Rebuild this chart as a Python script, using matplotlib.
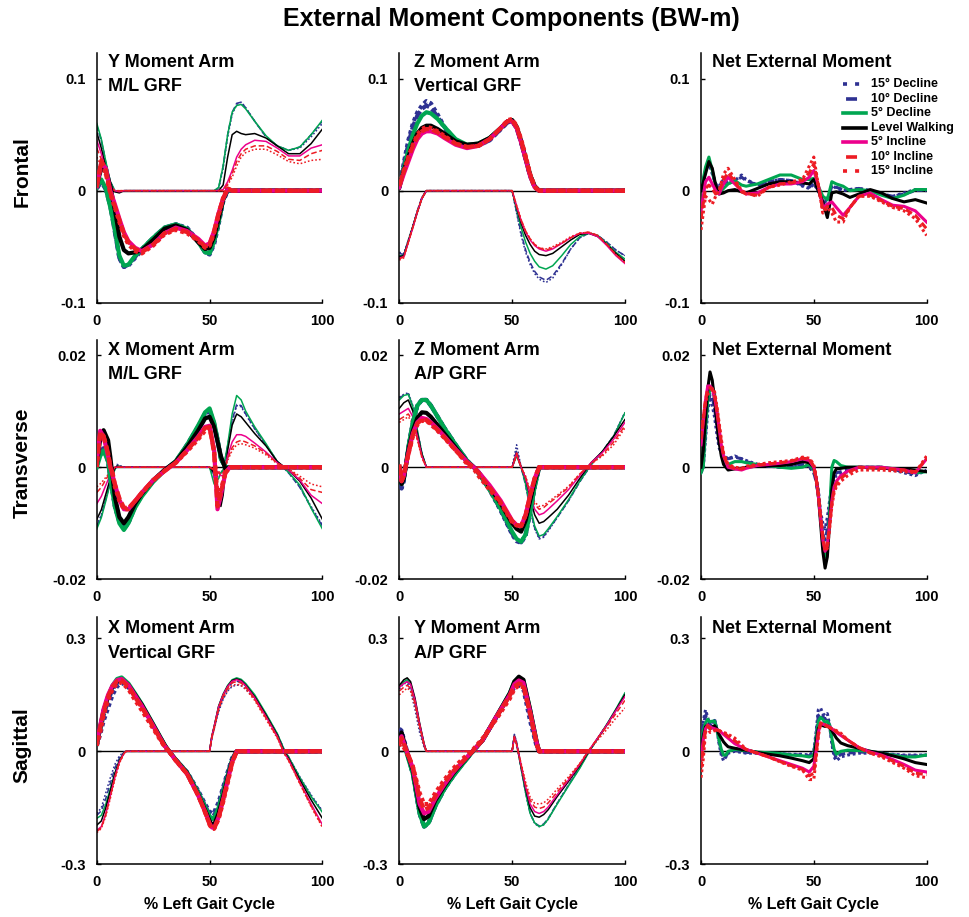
import numpy as np
import matplotlib
matplotlib.use('Agg')
import matplotlib.pyplot as plt
from matplotlib.lines import Line2D

plt.rcParams['font.family'] = ['Liberation Sans', 'DejaVu Sans']
plt.rcParams['font.weight'] = 'bold'
plt.rcParams['lines.scale_dashes'] = False

W, H = 969, 917

conditions = ['15° Decline', '10° Decline', '5° Decline', 'Level Walking',
              '5° Incline', '10° Incline', '15° Incline']
colors = ['#2E3192', '#2E3192', '#00A651', '#000000', '#EC008C', '#ED1C24', '#ED1C24']
kinds = ['dot', 'dash', 'solid', 'solid', 'solid', 'dash', 'dot']

# all moments below are in 1e-3 BW-m, rows in the order of `conditions`
# left leg = thick lines, right leg = thin lines

# Frontal: Y moment arm x M/L GRF
fy_x_left = [0, 2, 4, 6, 8, 10, 12, 14, 17, 20, 25, 30, 35, 40, 45, 48, 50, 52, 54, 56, 58, 60, 100]
fy_left = [
    [2, 8, 2, -12, -35, -60, -68, -67, -60, -53, -43, -34, -30, -33, -45, -55, -57, -48, -30, -10, 0, 0, 0],
    [2, 8, 1, -14, -37, -60, -68, -66, -59, -52, -42, -33, -30, -34, -46, -55, -56, -46, -28, -8, 0, 0, 0],
    [3, 10, 2, -15, -35, -58, -67, -66, -58, -52, -42, -33, -30, -34, -46, -55, -56, -45, -28, -8, 0, 0, 0],
    [5, 20, 18, 4, -17, -41, -53, -56, -55, -53, -44, -34, -31, -35, -46, -52, -51, -41, -25, -8, 1, 0, 0],
    [4, 25, 20, 0, -12, -25, -37, -45, -51, -54, -48, -38, -33, -36, -43, -49, -47, -36, -20, -7, 1, 0, 0],
    [4, 27, 18, -2, -14, -26, -38, -46, -52, -55, -48, -38, -34, -37, -44, -50, -48, -36, -20, -7, 2, 0, 0],
    [3, 26, 15, -3, -15, -28, -40, -48, -54, -56, -49, -39, -35, -38, -45, -51, -49, -38, -22, -6, 2, 0, 0],
]
fy_x_right = [0, 2, 4, 6, 8, 10, 12, 50, 52, 54, 56, 58, 60, 62, 64, 66, 70, 75, 80, 85, 90, 95, 100]
fy_right = [
    [58, 45, 25, 8, 0, -1, 0, 0, 0, 2, 20, 48, 68, 77, 79, 74, 62, 48, 40, 36, 38, 48, 60],
    [58, 45, 25, 8, 0, -1, 0, 0, 0, 2, 22, 50, 70, 78, 79, 74, 62, 48, 40, 36, 39, 50, 62],
    [60, 46, 26, 8, 0, -1, 0, 0, 0, 3, 22, 50, 70, 76, 77, 73, 62, 49, 40, 36, 39, 50, 63],
    [52, 38, 20, 5, -1, -2, 0, 0, 0, 0, 5, 30, 50, 53, 51, 50, 51, 47, 40, 33, 33, 42, 55],
    [45, 33, 17, 4, 0, -1, 0, 0, 0, 0, 1, 8, 18, 30, 37, 41, 45, 44, 38, 31, 31, 38, 41],
    [38, 28, 14, 3, 0, 0, 0, 0, 0, 0, 0, 6, 15, 26, 33, 37, 40, 40, 35, 28, 27, 33, 36],
    [30, 22, 11, 2, 0, 0, 0, 0, 0, 0, 0, 5, 12, 22, 30, 34, 37, 37, 32, 26, 24, 27, 28],
]

# Frontal: Z moment arm x vertical GRF
fz_x_left = [0, 2, 4, 6, 8, 10, 12, 14, 17, 20, 25, 30, 35, 40, 45, 48, 50, 52, 54, 56, 58, 60, 62, 100]
fz_left = [
    [3, 25, 45, 60, 70, 76, 80, 78, 68, 57, 45, 40, 40, 45, 55, 61, 62, 56, 43, 28, 13, 3, 0, 0],
    [3, 22, 42, 57, 67, 73, 76, 74, 66, 56, 45, 40, 40, 45, 55, 61, 62, 56, 43, 28, 13, 3, 0, 0],
    [3, 20, 36, 50, 60, 67, 70, 69, 64, 57, 46, 41, 42, 47, 56, 62, 63, 57, 44, 29, 14, 4, 0, 0],
    [3, 18, 30, 42, 51, 56, 58, 58, 55, 51, 44, 41, 42, 47, 56, 62, 63, 57, 44, 29, 14, 4, 0, 0],
    [3, 15, 26, 37, 46, 51, 53, 53, 51, 47, 41, 38, 40, 46, 56, 62, 62, 56, 43, 28, 13, 3, 0, 0],
    [4, 17, 29, 40, 48, 53, 55, 55, 52, 48, 42, 39, 40, 46, 56, 62, 63, 57, 45, 30, 14, 3, 0, 0],
    [5, 18, 30, 41, 50, 55, 57, 56, 53, 49, 42, 39, 40, 46, 56, 63, 64, 58, 46, 31, 15, 4, 0, 0],
]
fz_x_right = [0, 2, 4, 6, 8, 10, 12, 50, 52, 54, 56, 58, 60, 62, 65, 68, 72, 76, 80, 84, 88, 92, 96, 100]
fz_right = [
    [-55, -56, -44, -31, -18, -6, 0, 0, -20, -40, -55, -66, -74, -79, -82, -78, -66, -52, -42, -38, -40, -46, -53, -58],
    [-56, -57, -45, -32, -18, -6, 0, 0, -19, -38, -53, -64, -72, -77, -80, -76, -65, -52, -42, -38, -40, -46, -53, -58],
    [-58, -58, -45, -32, -19, -7, 0, 0, -17, -33, -46, -56, -63, -68, -70, -67, -58, -48, -41, -38, -40, -47, -55, -61],
    [-59, -58, -45, -32, -19, -7, 0, 0, -15, -29, -40, -48, -54, -57, -58, -56, -50, -44, -39, -38, -41, -48, -56, -63],
    [-60, -59, -46, -33, -19, -7, 0, 0, -14, -27, -37, -44, -49, -52, -54, -52, -47, -42, -38, -38, -41, -49, -58, -65],
    [-61, -59, -46, -33, -19, -7, 0, 0, -14, -26, -36, -43, -48, -51, -53, -51, -47, -42, -38, -37, -40, -48, -57, -64],
    [-62, -60, -46, -33, -19, -7, 0, 0, -13, -26, -36, -43, -48, -51, -52, -50, -46, -41, -38, -37, -40, -48, -57, -64],
]

# Frontal: net external moment
fn_x = [0, 2, 3.5, 5, 6.5, 8, 10, 12, 15, 18, 20, 25, 30, 35, 40, 45, 48, 50, 52, 54, 56, 58, 60, 63, 66, 70, 75, 80, 85, 90, 95, 100]
fn = [
    [0, 18, 25, 15, 6, 4, 10, 7, 9, 14, 10, 5, 8, 10, 9, 4, 2, 6, 0, -12, -8, 5, 2, 0, 1, 2, 0, -3, -5, -2, 1, 0],
    [0, 17, 26, 16, 6, 2, 7, 6, 9, 12, 9, 5, 8, 10, 9, 5, 3, 7, 0, -10, -8, 4, 3, 1, 1, 2, 0, -3, -5, -3, 0, 1],
    [0, 21, 30, 18, 4, -2, 2, 6, 9, 5, 4, 6, 10, 14, 14, 10, 10, 11, 4, -5, -8, 8, 6, 4, 0, 1, 0, -4, -7, -4, 1, 1],
    [0, 15, 26, 20, 5, -3, -2, 0, 1, -1, -2, 2, 6, 8, 8, 7, 6, 10, 0, -10, -24, -2, -1, -3, -6, -3, 1, -2, -7, -10, -8, -11],
    [-18, 8, 12, 6, 0, -3, 6, 12, 6, 0, -3, -2, 3, 6, 6, 8, 12, 18, 5, -15, -12, -10, -15, -22, -15, -5, -2, -8, -13, -14, -18, -28],
    [-25, 2, 5, 2, -3, 0, 10, 16, 8, -1, -3, -4, 3, 6, 7, 9, 16, 24, 5, -18, -14, -15, -22, -25, -15, -5, -4, -9, -14, -16, -22, -34],
    [-35, -5, -8, -12, -5, 0, 15, 20, 10, 0, -2, -5, 3, 5, 8, 10, 22, 30, 5, -20, -15, -20, -28, -28, -15, -5, -5, -10, -15, -18, -25, -40],
]

# Transverse: X moment arm x M/L GRF
tx_x_left = [0, 1.5, 3, 5, 6, 7, 8, 10, 12, 14, 17, 20, 25, 30, 35, 40, 45, 48, 50, 52, 53.5, 55, 57, 59, 100]
tx_left = [
    [0.3, 2.5, 3.2, 1, -2, -4.5, -7, -9.8, -11, -10, -7, -5, -2.5, -0.5, 1, 4, 7.2, 9.5, 10, 7.6, 4.8, 1.5, 0, 0, 0],
    [0.3, 2.8, 3.4, 1.2, -1.8, -4.2, -6.8, -9.6, -10.8, -9.8, -7, -5, -2.5, -0.5, 1, 4, 7.3, 9.6, 10.2, 7.8, 5, 1.5, 0, 0, 0],
    [0, 2, 3, 1, -2, -4.5, -7, -10, -11.2, -10, -7.2, -5.2, -2.6, -0.6, 1.1, 4, 7.5, 9.8, 10.5, 8, 5, 1.5, 0, 0, 0],
    [0.5, 5, 6.6, 4.8, 1.8, -1.7, -5.3, -8.9, -10, -8.9, -6.5, -4.7, -2.3, -0.5, 1, 3.6, 6.6, 8.7, 9, 7.2, 4.6, 2, -0.3, 0, 0],
    [1, 6.5, 5.5, 2, 0, -1.5, -3, -5.8, -7.5, -7.5, -6, -4.5, -2.3, -0.7, 0.8, 3, 5.5, 7.2, 7.4, 3, -7.5, -5, -1, 0, 0],
    [0.5, 6.2, 5.6, 2.5, 0, -1, -3, -5.5, -7.2, -7.3, -6, -4.5, -2.3, -0.7, 0.8, 3, 5.3, 7, 7.2, 2.5, -7, -4.5, -1, 0, 0],
    [0, 6, 5.5, 2.5, 0, -1.2, -3.5, -6, -7.5, -7.5, -6, -4.6, -2.4, -0.6, 0.8, 2.8, 5, 6.5, 7, 3, -5, -4, -1, 0, 0],
]
tx_x_right = [0, 2, 4, 6, 8, 9, 12, 50, 52, 54, 55, 56, 58, 60, 62, 64, 66, 70, 75, 80, 85, 90, 95, 100]
tx_right = [
    [-10.3, -8.5, -5.5, -2.5, -0.3, 0.5, 0, 0, -1.5, -1.5, -1, -0.5, 3.5, 8, 11, 10.8, 9.4, 6.8, 4, 1, -1, -3.5, -7, -10.3],
    [-10.5, -8.7, -5.7, -2.6, -0.3, 0.3, 0, 0, -1.8, -1.6, -1, -0.5, 3.8, 8.4, 11.2, 11, 9.5, 6.9, 4, 1, -1, -3.6, -7.2, -10.5],
    [-11, -9, -6, -2.8, -0.4, 0.2, 0, 0, -3, -2, -1, -0.5, 4, 9.5, 12.8, 12, 10, 7.2, 4.2, 1, -0.9, -3.2, -7.3, -11],
    [-9.3, -7.6, -4.8, -2, -0.2, 0.2, 0, 0, -1, -5, -7, -5, 3, 7.5, 9.5, 9, 8, 6, 3.8, 1, -0.5, -2.5, -5.5, -9.3],
    [-6.5, -5.2, -3.2, -1.3, 0, 0, 0, 0, -0.5, -1, -1.5, -1.5, 2, 4.5, 5.8, 5.8, 5.5, 4.3, 2.7, 0.8, -0.5, -2.3, -5, -6.5],
    [-4.5, -3.6, -2.2, -0.9, 0, 0, 0, 0, -0.5, -1, -1.2, -1.2, 1.5, 3.5, 4.5, 4.8, 4.5, 3.8, 2.5, 0.7, -0.3, -2, -4, -4.5],
    [-3.5, -2.8, -1.8, -0.8, 0, 0, 0, 0, -0.4, -0.8, -1, -1, 1.2, 3, 4, 4.2, 4, 3.4, 2.2, 0.6, -0.3, -1.6, -3, -3.5],
]

# Transverse: Z moment arm x A/P GRF
tz_x_left = [0, 1, 2, 3, 4, 6, 8, 10, 12, 14, 17, 20, 25, 30, 33, 35, 40, 45, 50, 52, 54, 56, 58, 60, 62, 100]
tz_left = [
    [0, -3.8, -2.5, 0.5, 3.5, 8, 11, 12, 12, 11, 9, 7, 4, 1.2, 0, -1, -4, -7.8, -12, -13.2, -13.5, -12.2, -8, -3.5, 0, 0],
    [0, -3.5, -2.2, 0.5, 3.5, 8, 11, 12, 12, 11, 9, 7, 4, 1.2, 0, -1, -4, -7.6, -11.8, -13, -13.4, -12, -8, -3.5, 0, 0],
    [0, -3, -2, 0.5, 3.5, 8, 11, 12, 12, 11, 9, 7, 4, 1.2, 0, -1, -4, -7.5, -11.5, -12.8, -13.3, -12, -8, -3.5, 0, 0],
    [0, -3, -2, 0.5, 3, 6.5, 8.8, 9.8, 9.7, 9, 7.5, 6, 3.5, 1, 0, -0.8, -3.5, -6.5, -10, -11, -11.5, -9.5, -6, -2.5, 0, 0],
    [0, -2.5, -1.5, 0.5, 2.5, 6, 8, 8.8, 8.6, 8, 6.8, 5.5, 3.2, 1, 0, -0.8, -3.2, -6, -9.5, -10.3, -10.5, -8.5, -5, -2, 0, 0],
    [0, -2.5, -1.5, 0.5, 2.3, 5.7, 7.8, 8.5, 8.4, 7.8, 6.6, 5.3, 3, 0.8, 0, -1, -3.6, -6.3, -9.6, -10.3, -10.5, -8.5, -5, -2, 0, 0],
    [0.5, -2, -1, 0.5, 2.2, 5.5, 7.6, 8.3, 8.3, 7.6, 6.5, 5.2, 3, 0.6, -0.3, -1.5, -4, -6.5, -9.8, -10.4, -10.5, -8.5, -5, -2, 0, 0],
]
tz_x_right = [0, 2, 4, 6, 8, 10, 12, 50, 51, 52, 53, 54, 56, 58, 60, 62, 64, 66, 70, 75, 80, 85, 90, 95, 100]
tz_right = [
    [12.5, 13, 13.3, 11, 6.6, 2.5, 0, 0, 2, 4, 2, 0, -3.2, -7.5, -11, -12.8, -12.5, -11.4, -9, -6, -2.6, 0.4, 2.8, 5.6, 9.8],
    [12.3, 12.9, 13.1, 10.8, 6.5, 2.5, 0, 0, 1.5, 3, 1.5, 0, -3.2, -7.4, -10.8, -12.6, -12.3, -11.2, -9, -6, -2.6, 0.4, 2.8, 5.6, 9.7],
    [12, 12.8, 13, 10.8, 6.5, 2.5, 0, 0, 1, 2, 1, 0, -3, -7, -10.5, -12.3, -12, -11, -8.8, -5.8, -2.5, 0.5, 2.8, 5.5, 9.7],
    [10.5, 11.5, 12, 10, 6, 2.3, 0, 0, 1.2, 2.5, 1.2, 0, -2, -5.5, -8.5, -10, -9.7, -9, -7.5, -5, -2, 0.8, 2.8, 5.5, 8.5],
    [9.5, 10, 10.5, 9, 5.5, 2, 0, 0, 1.2, 2.5, 1.2, 0, -2, -5, -7.5, -8.5, -8.2, -7.5, -6, -4, -1.5, 0.8, 2.6, 5, 8],
    [8.5, 9, 9.5, 8.2, 5, 1.8, 0, 0, 1.2, 2.5, 1.2, 0, -1.8, -4.5, -6.6, -7.5, -7.2, -6.5, -5.3, -3.6, -1.2, 0.6, 2.2, 4.5, 7.4],
    [8, 8.5, 9, 7.8, 4.8, 1.7, 0, 0, 1, 2, 1, 0, -1.6, -4.2, -6.2, -7, -6.8, -6.2, -5, -3.4, -1.2, 0.6, 2, 4, 7],
]

# Transverse: net external moment
tn_x = [0, 1, 2, 3, 4, 5, 6, 7, 8, 9, 10, 12, 15, 18, 20, 25, 30, 35, 40, 45, 48, 50, 51, 52, 53, 54, 55, 56, 57, 58, 59, 60, 62, 65, 70, 80, 90, 95, 100]
tn = [
    [-1, 0, 5, 10, 12.5, 11, 9, 6, 3.5, 2.5, 2, 1.5, 2, 1.5, 1.2, 0.5, 0.2, 0, 0.2, 0.5, 0, -1, -2, -4, -8, -10, -11, -9, -6, -3, -2, -1.5, -1.2, -0.8, 0, 0, -1, -1.5, -0.5],
    [-1, 0.5, 6, 11, 13, 12.5, 10.5, 7.5, 4.5, 3, 2.2, 1.5, 1.8, 1.5, 1, 0.5, 0.2, 0, 0.2, 0.5, 0.2, -1, -2.5, -5, -9, -12, -13, -11, -7, -3, -1.5, -1, -0.8, -0.5, 0, 0, -0.8, -1.2, -0.5],
    [-1, 0, 7, 12, 14, 14.5, 13, 10, 6, 3, 1, 0.5, 1, 1, 0.8, 0.5, 0.3, 0, -0.2, 0, 0.5, -0.5, -2, -5, -9, -13, -16, -15, -8, 0, 1.2, 1, 0.3, 0, 0, 0, -0.5, -1, -0.8],
    [0, 3, 9, 14, 17, 15.5, 12, 8, 4.5, 2, 0.5, -0.5, -0.3, -0.2, 0, 0.2, 0.3, 0.3, 0.5, 1, 0.8, 0, -2, -5, -10, -15, -18, -16, -10, -4, -1, -0.3, -0.2, 0, 0, -0.2, -0.3, -0.5, -0.8],
    [4, 8, 12, 14.5, 14.5, 14, 12.5, 10, 7, 4, 2, 0, -0.3, -0.5, -0.2, 0.3, 0.5, 0.7, 1, 1.5, 1.2, 0, -2, -5, -9, -13, -15, -14, -10, -6, -3.5, -2.5, -1.5, -0.7, 0, 0, -0.5, -1, 1.5],
    [5, 8.5, 12, 14, 14.2, 14, 13, 10.5, 7.5, 4.5, 2.2, 0.3, -0.2, -0.3, 0, 0.4, 0.6, 0.8, 1.1, 1.6, 1.5, 0.2, -2, -5, -9, -12.5, -14.8, -14, -10.5, -6.5, -4, -3, -2, -1, 0, -0.2, -0.5, -0.8, 1.5],
    [6, 9, 11.5, 13, 13.5, 14, 13.5, 11, 8, 5, 2.5, 0.5, 0, -0.2, 0.2, 0.5, 0.8, 1, 1.2, 1.8, 1.6, 0.5, -1.5, -4.5, -8.5, -12, -15, -14.5, -11, -7, -4.5, -3.5, -2.5, -1.5, -0.5, -0.5, -0.8, -1, 2],
]

# Sagittal: X moment arm x vertical GRF
sx_x_left = [0, 1.5, 3, 5, 7, 9, 11, 14, 17, 20, 25, 30, 32, 35, 40, 45, 48, 50, 51, 52, 54, 56, 58, 60, 62, 100]
sx_left = [
    [15, 45, 80, 115, 150, 172, 182, 170, 145, 118, 68, 16, 0, -22, -55, -105, -140, -160, -165, -162, -135, -95, -55, -18, 0, 0],
    [18, 55, 95, 135, 165, 182, 188, 175, 150, 122, 70, 17, 0, -22, -56, -108, -145, -168, -173, -170, -145, -102, -60, -20, 0, 0],
    [20, 60, 105, 145, 175, 192, 196, 180, 153, 125, 72, 18, 0, -22, -56, -110, -148, -172, -180, -178, -150, -108, -65, -22, 0, 0],
    [21, 65, 108, 145, 172, 187, 191, 176, 150, 123, 70, 17, 0, -23, -58, -116, -156, -185, -195, -195, -165, -120, -72, -25, 0, 0],
    [22, 68, 112, 150, 175, 189, 192, 176, 148, 120, 68, 15, 0, -24, -60, -118, -160, -192, -202, -204, -175, -128, -78, -28, 0, 0],
    [20, 62, 105, 145, 172, 186, 188, 172, 143, 116, 65, 14, 0, -24, -60, -118, -162, -194, -204, -205, -177, -130, -80, -30, 0, 0],
    [15, 50, 95, 135, 165, 180, 183, 165, 135, 108, 60, 12, 0, -25, -60, -118, -162, -195, -205, -206, -180, -135, -85, -32, 0, 0],
]
sx_x_right = [0, 2, 4, 6, 8, 10, 12, 13, 50, 51, 52, 54, 56, 58, 60, 62, 64, 66, 70, 75, 80, 83, 85, 90, 95, 100]
sx_right = [
    [-165, -150, -110, -70, -35, -12, -2, 0, 0, 35, 58, 105, 138, 160, 172, 176, 174, 165, 140, 95, 45, 5, -15, -68, -116, -158],
    [-170, -158, -125, -85, -45, -18, -3, 0, 0, 38, 62, 112, 145, 168, 182, 186, 183, 173, 145, 98, 46, 5, -15, -70, -118, -160],
    [-178, -170, -140, -100, -58, -24, -5, 0, 0, 40, 65, 120, 152, 175, 190, 195, 191, 180, 150, 100, 47, 5, -15, -70, -120, -162],
    [-196, -185, -150, -105, -60, -25, -5, 0, 0, 40, 65, 119, 150, 173, 188, 192, 188, 176, 145, 96, 43, 0, -19, -76, -129, -178],
    [-210, -200, -165, -118, -68, -28, -6, 0, 0, 40, 65, 118, 150, 172, 186, 190, 186, 174, 142, 92, 40, -3, -22, -82, -140, -195],
    [-213, -203, -168, -120, -70, -30, -6, 0, 0, 38, 62, 115, 147, 168, 182, 185, 181, 170, 138, 88, 37, -5, -24, -85, -145, -200],
    [-216, -205, -172, -125, -75, -32, -7, 0, 0, 35, 58, 110, 140, 162, 175, 178, 175, 165, 135, 85, 35, -5, -25, -86, -147, -202],
]

# Sagittal: Y moment arm x A/P GRF
sy_x_left = [0, 1, 3, 6, 9, 11, 13, 16, 20, 24, 28, 32, 37, 43, 49, 51, 53, 55, 58, 61, 62, 100]
sy_left = [
    [60, 55, 10, -60, -165, -200, -190, -145, -100, -65, -33, -5, 30, 90, 150, 170, 175, 165, 80, 10, 0, 0],
    [45, 50, 5, -60, -165, -200, -190, -145, -100, -65, -34, -5, 30, 91, 152, 178, 185, 178, 95, 15, 0, 0],
    [30, 45, 0, -60, -165, -200, -190, -145, -100, -65, -35, -5, 30, 92, 155, 185, 195, 188, 110, 22, 0, 0],
    [30, 50, 5, -50, -150, -180, -172, -130, -92, -58, -30, -3, 30, 92, 154, 185, 198, 190, 110, 21, 0, 0],
    [25, 40, 5, -45, -140, -165, -160, -125, -88, -55, -28, -3, 30, 92, 150, 178, 188, 182, 105, 20, 0, 0],
    [20, 35, 5, -40, -125, -155, -150, -118, -82, -52, -27, -3, 30, 90, 148, 172, 180, 175, 100, 18, 0, 0],
    [15, 20, 0, -40, -110, -140, -140, -110, -75, -45, -20, 0, 35, 85, 140, 165, 175, 170, 100, 15, 0, 0],
]
sy_x_right = [0, 2, 3.5, 5, 7, 9, 11, 12, 50, 51, 52, 54, 56, 58, 60, 62, 64, 66, 70, 75, 80, 84, 88, 92, 96, 100]
sy_right = [
    [165, 180, 180, 160, 110, 50, 10, 0, 0, 45, 25, -45, -110, -165, -192, -200, -195, -180, -138, -90, -42, 0, 35, 70, 108, 150],
    [170, 182, 185, 172, 125, 62, 15, 0, 0, 42, 22, -45, -110, -165, -190, -198, -193, -178, -138, -90, -43, -2, 35, 71, 110, 152],
    [170, 185, 190, 180, 135, 72, 18, 0, 0, 40, 20, -45, -110, -165, -190, -200, -195, -180, -140, -92, -45, -3, 35, 72, 112, 155],
    [175, 190, 195, 185, 140, 75, 20, 0, 0, 40, 20, -40, -100, -150, -172, -175, -168, -155, -120, -80, -38, 0, 35, 70, 110, 150],
    [170, 180, 185, 178, 135, 72, 18, 0, 0, 40, 20, -38, -95, -140, -160, -165, -160, -148, -115, -76, -35, 2, 36, 70, 108, 145],
    [160, 170, 175, 168, 128, 68, 17, 0, 0, 38, 18, -35, -88, -130, -148, -152, -148, -137, -108, -72, -33, 3, 35, 66, 100, 135],
    [150, 160, 168, 160, 120, 62, 15, 0, 0, 35, 15, -32, -82, -122, -138, -140, -137, -127, -100, -68, -32, 2, 30, 58, 88, 115],
]

# Sagittal: net external moment
sn_x = [0, 1, 2, 3, 4, 5, 6, 7, 8, 9, 10, 11, 12, 15, 20, 25, 30, 35, 40, 45, 48, 50, 51, 52, 53, 54, 55, 56, 57, 58, 59, 60, 62, 65, 70, 75, 80, 85, 90, 95, 100]
sn = [
    [0, 80, 110, 90, 60, 75, 85, 60, 20, -10, -25, -15, -5, 0, -5, -5, -5, -6, -8, -8, -10, 0, 50, 110, 115, 100, 95, 100, 70, 20, -15, -25, -15, -10, -5, -5, -5, -8, -10, -10, -10],
    [0, 70, 95, 88, 70, 75, 82, 62, 28, -2, -18, -14, -4, 2, -3, -4, -5, -6, -9, -10, -12, -5, 40, 95, 100, 92, 85, 88, 68, 28, -5, -18, -8, -5, -2, -3, -5, -9, -12, -12, -10],
    [0, 55, 75, 85, 78, 80, 80, 60, 30, 5, -10, -10, 0, 5, 2, -2, -4, -6, -10, -12, -15, -10, 30, 80, 90, 85, 75, 80, 70, 35, 5, -8, 0, 3, 2, 0, -5, -10, -15, -15, -10],
    [0, 40, 65, 70, 60, 65, 68, 60, 45, 35, 25, 18, 12, 8, 3, -3, -8, -12, -18, -25, -30, -20, 20, 60, 70, 68, 66, 68, 62, 55, 45, 35, 22, 15, 8, 0, -5, -12, -20, -30, -35],
    [-20, 30, 60, 70, 65, 62, 60, 58, 55, 50, 45, 40, 35, 20, 5, -5, -15, -25, -35, -45, -55, -40, 0, 50, 75, 72, 70, 68, 65, 60, 55, 50, 42, 30, 10, -2, -10, -22, -35, -50, -55],
    [-45, 10, 55, 68, 60, 58, 58, 56, 55, 52, 48, 45, 40, 28, 5, -5, -15, -27, -38, -48, -65, -58, -10, 45, 75, 72, 70, 66, 63, 60, 57, 52, 45, 30, 10, -4, -12, -26, -40, -58, -62],
    [-70, -20, 50, 65, 50, 52, 55, 55, 55, 52, 50, 48, 45, 35, 5, -5, -15, -28, -40, -50, -75, -75, -20, 40, 75, 72, 70, 65, 62, 60, 58, 55, 48, 30, 10, -5, -15, -30, -45, -65, -70],
]

row_names = ['Frontal', 'Transverse', 'Sagittal']
row_lim = [0.1, 0.02, 0.3]
row_ytop = [0.1229, 0.0227, 0.3565]
row_ticks = [['-0.1', '0', '0.1'], ['-0.02', '0', '0.02'], ['-0.3', '0', '0.3']]

component_panels = [
    (0, 0, ['Y Moment Arm', 'M/L GRF'], fy_x_left, fy_left, fy_x_right, fy_right),
    (0, 1, ['Z Moment Arm', 'Vertical GRF'], fz_x_left, fz_left, fz_x_right, fz_right),
    (1, 0, ['X Moment Arm', 'M/L GRF'], tx_x_left, tx_left, tx_x_right, tx_right),
    (1, 1, ['Z Moment Arm', 'A/P GRF'], tz_x_left, tz_left, tz_x_right, tz_right),
    (2, 0, ['X Moment Arm', 'Vertical GRF'], sx_x_left, sx_left, sx_x_right, sx_right),
    (2, 1, ['Y Moment Arm', 'A/P GRF'], sy_x_left, sy_left, sy_x_right, sy_right),
]
net_panels = [(0, fn_x, fn), (1, tn_x, tn), (2, sn_x, sn)]

# layout in pixels
col_left = [96.8, 399.3, 701.0]
col_width = 225.6
row_top = [53.0, 340.0, 617.0]
row_bottom = [302.7, 579.3, 864.3]
row_label_y = [172, 463, 745]
title_x = [107.5, 414.0, 711.5]
title_base = [[67, 91], [355, 379], [633, 658]]

widths = {'thick': 3.0, 'thin': 1.1, 'net': 2.2}
patterns = {
    ('dot', 'thick'): (0, (2.6, 2.3)), ('dash', 'thick'): (0, (6, 2.5)),
    ('dot', 'thin'): (0, (1.2, 1.5)), ('dash', 'thin'): (0, (4, 2)),
    ('dot', 'net'): (0, (2.0, 2.0)), ('dash', 'net'): (0, (5, 2.5)),
}


def line_style(kind, weight):
    if kind == 'solid':
        return '-'
    return patterns[(kind, weight)]


def fx(px):
    return px / W


def fy(py):
    return 1 - py / H


fig = plt.figure(figsize=(W / 100, H / 100), dpi=100)
axes = {}
for r in range(3):
    for c in range(3):
        ax = fig.add_axes([fx(col_left[c]), fy(row_bottom[r]), col_width / W,
                           (row_bottom[r] - row_top[r]) / H])
        ax.set_xlim(0, 100)
        ax.set_ylim(-row_lim[r], row_ytop[r])
        for s in ['top', 'right']:
            ax.spines[s].set_visible(False)
        for s in ['left', 'bottom']:
            ax.spines[s].set_linewidth(1.1)
        ax.set_xticks([0, 50, 100])
        ax.set_xticklabels(['0', '50', '100'])
        ax.set_yticks([-row_lim[r], 0, row_lim[r]])
        ax.set_yticklabels(row_ticks[r])
        ax.tick_params(direction='in', length=3, width=1, labelsize=10.5, pad=8)
        ax.axhline(0, color='k', lw=1.0, zorder=1)
        axes[(r, c)] = ax

for r, c, title, xl, left, xr, right in component_panels:
    ax = axes[(r, c)]
    for i in range(7):
        ax.plot(xr, np.asarray(right[i]) / 1000, color=colors[i],
                linestyle=line_style(kinds[i], 'thin'), lw=widths['thin'], zorder=2)
    for i in range(7):
        ax.plot(xl, np.asarray(left[i]) / 1000, color=colors[i],
                linestyle=line_style(kinds[i], 'thick'), lw=widths['thick'], zorder=3)
    fig.text(fx(title_x[c]), fy(title_base[r][0]), title[0], fontsize=13, va='baseline')
    fig.text(fx(title_x[c]), fy(title_base[r][1]), title[1], fontsize=13, va='baseline')

for r, xs, vals in net_panels:
    ax = axes[(r, 2)]
    for i in range(7):
        ax.plot(xs, np.asarray(vals[i]) / 1000, color=colors[i],
                linestyle=line_style(kinds[i], 'net'), lw=widths['net'], zorder=3)
    fig.text(fx(title_x[2]), fy(title_base[r][0]), 'Net External Moment', fontsize=13, va='baseline')

# legend, drawn by hand inside the top-right panel
leg_y = [84, 98.5, 113, 127.5, 142, 156.5, 171]
leg_styles = [(0, (2.9, 5.8)), (15.1, (7.9, 9.4)), '-', '-', '-', (15.1, (7.9, 9.4)), (0, (2.9, 5.8))]
for i, lab in enumerate(conditions):
    fig.add_artist(Line2D([fx(843), fx(866)], [fy(leg_y[i]), fy(leg_y[i])],
                          color=colors[i], lw=2.6, linestyle=leg_styles[i],
                          transform=fig.transFigure))
    fig.text(fx(871), fy(leg_y[i]), lab, fontsize=9, va='center', ha='left')

for r, name in enumerate(row_names):
    fig.text(fx(22), fy(row_label_y[r]), name, fontsize=15,
             rotation=90, ha='center', va='center')

for c in range(3):
    fig.text(fx(col_left[c] + col_width / 2), fy(905), '% Left Gait Cycle',
             fontsize=11.5, ha='center', va='center')

fig.text(fx(511), fy(19), 'External Moment Components (BW-m)', fontsize=18,
         ha='center', va='center')

fig.savefig('out.png', dpi=100)
